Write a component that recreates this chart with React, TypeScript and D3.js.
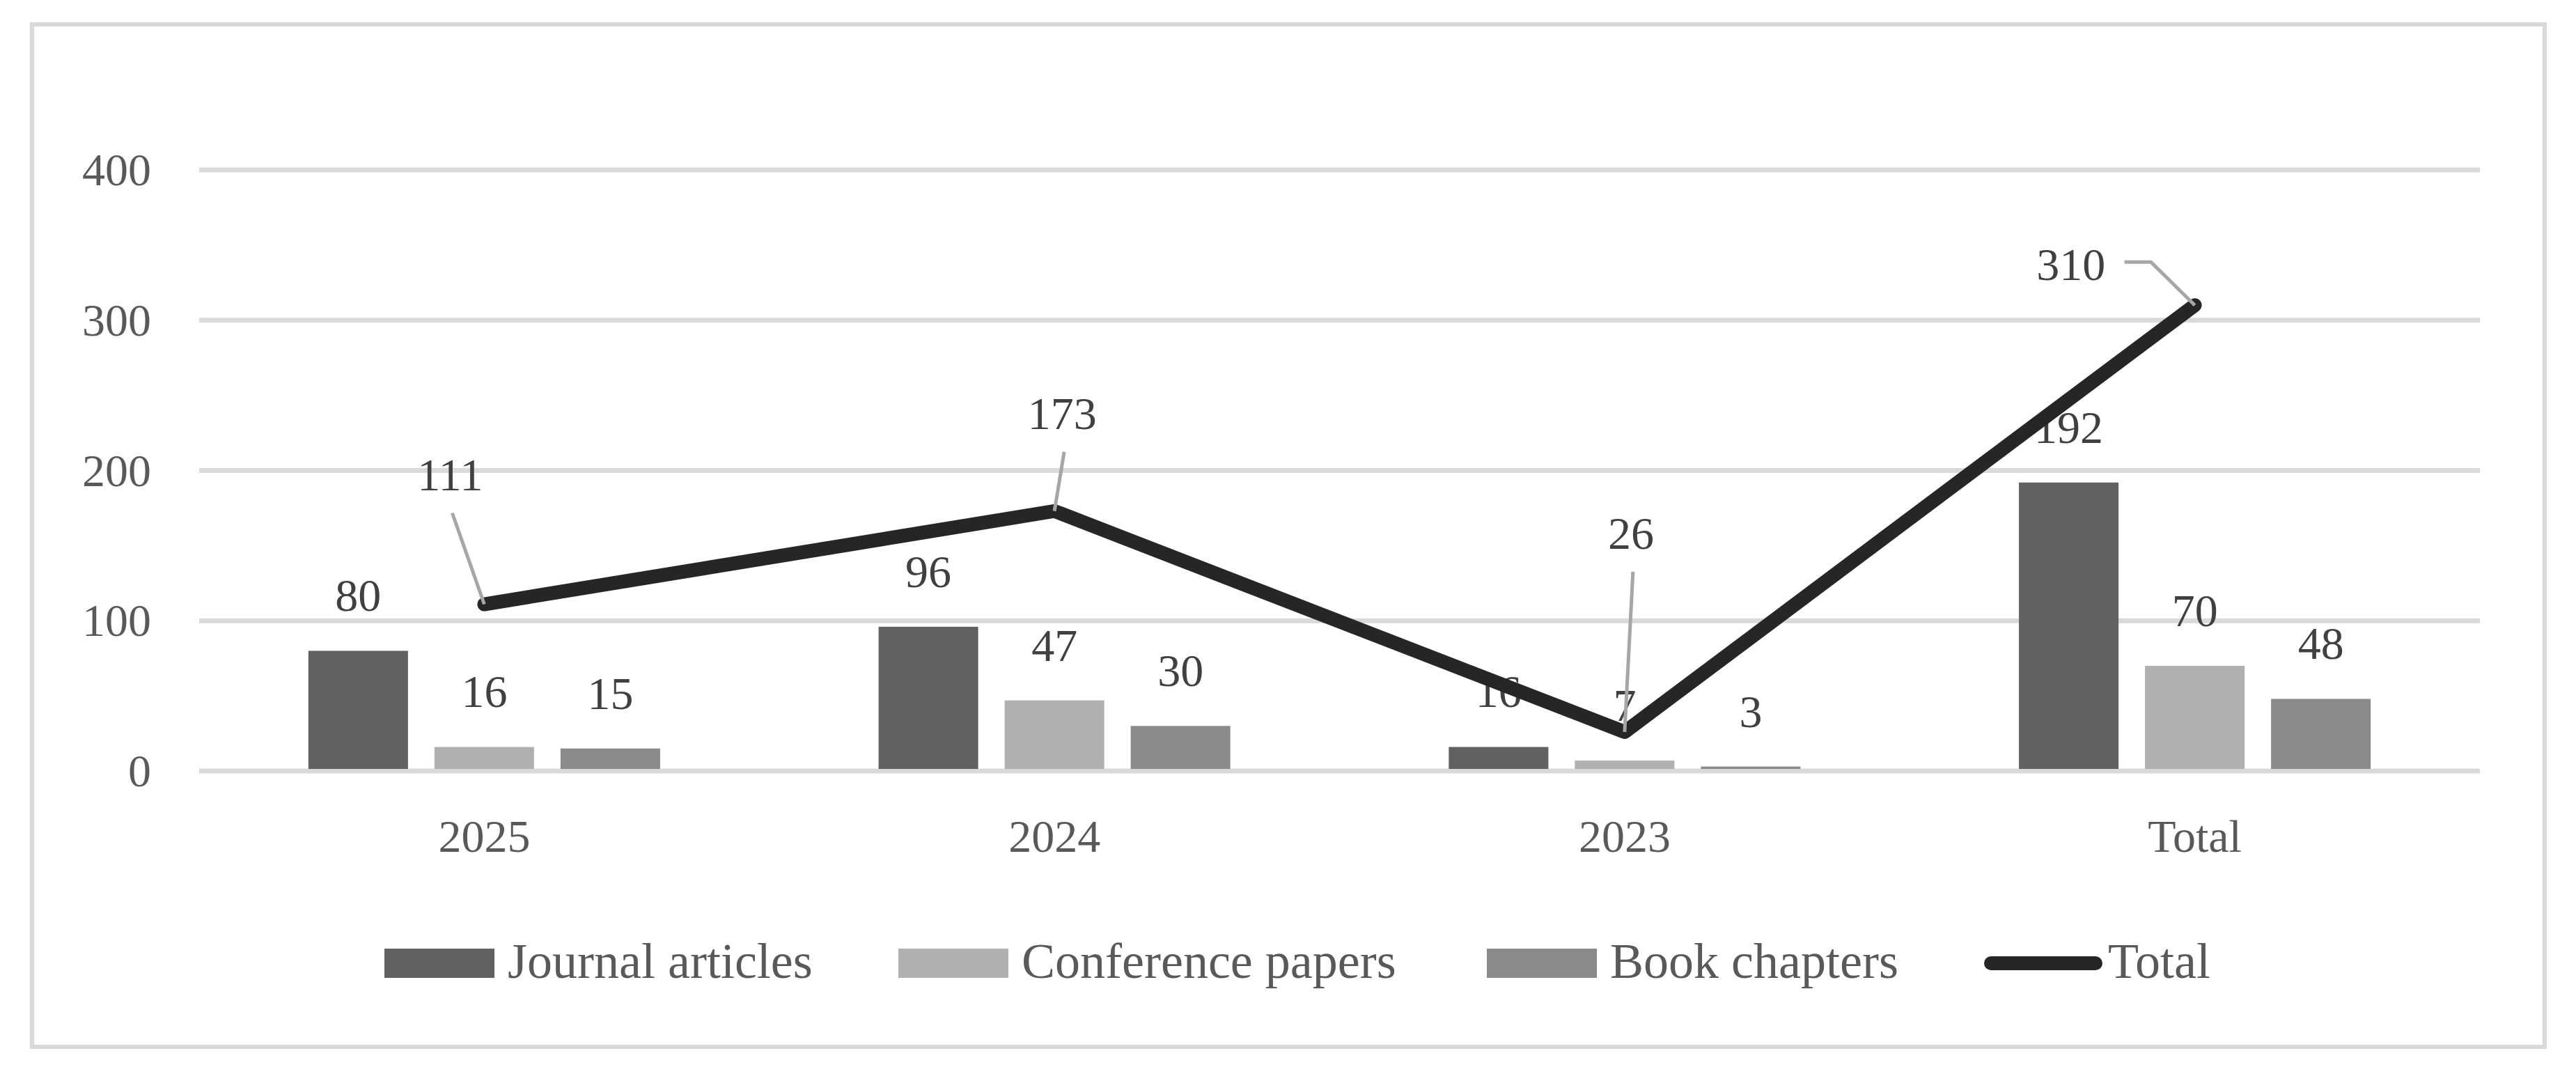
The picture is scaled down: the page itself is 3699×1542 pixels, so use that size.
import React from "react";
import * as d3 from "d3";

const categories = ["2025", "2024", "2023", "Total"];
const journalArticles = [80, 96, 16, 192];
const conferencePapers = [16, 47, 7, 70];
const bookChapters = [15, 30, 3, 48];
const totalValues = [111, 173, 26, 310];
const yTicks = [0, 100, 200, 300, 400];

const seriesNames = ["Journal articles", "Conference papers", "Book chapters"];
const seriesColors = ["#616161", "#b0b0b0", "#8a8a8a"];
const lineColor = "#262626";

// label placement (layout only): offset of label from point, leader style
const totalLabelLayout = [
  { dx: -49, dy: -164, elbow: false },
  { dx: 11, dy: -118, elbow: false },
  { dx: 9, dy: -263, elbow: false },
  { dx: -178, dy: -36, elbow: true },
];

const W = 3699;
const H = 1542;
const FONT = "'Liberation Serif', 'Times New Roman', serif";
const FS = 66;

export default function App() {
  const x = d3.scaleBand<string>().domain(categories).range([286, 3561]);
  const y = d3.scaleLinear().domain([0, 400]).range([1107, 244]);
  const band = x.bandwidth();
  const barW = band * 0.1747;
  const barStep = band * 0.2211;
  const cx = (c: string) => (x(c) as number) + band / 2;

  const allSeries = [journalArticles, conferencePapers, bookChapters];

  const lineGen = d3
    .line<number>()
    .x((_, i) => cx(categories[i]))
    .y((d) => y(d));

  const legendItems = [
    { type: "rect", color: seriesColors[0], label: seriesNames[0], x: 552, tx: 729 },
    { type: "rect", color: seriesColors[1], label: seriesNames[1], x: 1290, tx: 1467 },
    { type: "rect", color: seriesColors[2], label: seriesNames[2], x: 2135, tx: 2312 },
    { type: "line", color: lineColor, label: "Total", x: 2849, tx: 3027 },
  ];

  return (
    <svg
      width={W}
      height={H}
      style={{ position: "absolute", left: 0, top: 0, background: "#fff" }}
      fontFamily={FONT}
    >
      <rect x={0} y={0} width={W} height={H} fill="#fff" />
      <rect x={46} y={35} width={3608} height={1468} fill="none" stroke="#d9d9d9" strokeWidth={6} />

      {/* gridlines */}
      {yTicks.map((t) => (
        <line key={t} x1={286} x2={3561} y1={y(t)} y2={y(t)} stroke="#d9d9d9" strokeWidth={7} />
      ))}
      {/* y tick labels */}
      {yTicks.map((t) => (
        <text key={"yl" + t} x={217} y={y(t) + 22} textAnchor="end" fontSize={FS} fill="#595959">
          {t}
        </text>
      ))}

      {/* bars */}
      {allSeries.map((s, si) =>
        s.map((v, i) => {
          const bx = cx(categories[i]) + (si - 1) * barStep - barW / 2;
          return (
            <rect
              key={`b${si}-${i}`}
              x={bx}
              y={y(v)}
              width={barW}
              height={y(0) - 3 - y(v)}
              fill={seriesColors[si]}
            />
          );
        })
      )}

      {/* bar labels */}
      {allSeries.map((s, si) =>
        s.map((v, i) => (
          <text
            key={`bl${si}-${i}`}
            x={cx(categories[i]) + (si - 1) * barStep}
            y={y(v) - 57}
            textAnchor="middle"
            fontSize={FS}
            fill="#404040"
          >
            {v}
          </text>
        ))
      )}

      {/* category labels */}
      {categories.map((c) => (
        <text key={"c" + c} x={cx(c)} y={1223} textAnchor="middle" fontSize={FS} fill="#595959">
          {c}
        </text>
      ))}

      {/* total line */}
      <path
        d={lineGen(totalValues) || ""}
        fill="none"
        stroke={lineColor}
        strokeWidth={20}
        strokeLinecap="round"
        strokeLinejoin="round"
      />

      {/* leader lines and labels */}
      {totalValues.map((v, i) => {
        const px = cx(categories[i]);
        const py = y(v);
        const L = totalLabelLayout[i];
        const lx = px + L.dx;
        const ly = py + L.dy;
        let d: string;
        if (L.elbow) {
          const sx = lx + 77;
          const sy = ly - 26;
          d = `M${sx},${sy} L${sx + 38},${sy} L${px},${py}`;
        } else {
          d = `M${lx + 3},${ly + 33} L${px},${py}`;
        }
        return (
          <g key={"t" + i}>
            <path d={d} fill="none" stroke="#a6a6a6" strokeWidth={5} />
            <text x={lx} y={ly} textAnchor="middle" fontSize={FS} fill="#404040">
              {v}
            </text>
          </g>
        );
      })}

      {/* legend */}
      {legendItems.map((it) => (
        <g key={it.label}>
          {it.type === "rect" ? (
            <rect x={it.x} y={1362} width={158} height={42} fill={it.color} />
          ) : (
            <line
              x1={it.x + 10}
              x2={it.x + 160}
              y1={1383}
              y2={1383}
              stroke={it.color}
              strokeWidth={20}
              strokeLinecap="round"
            />
          )}
          <text x={it.tx} y={1404} fontSize={72} fill="#595959">
            {it.label}
          </text>
        </g>
      ))}
    </svg>
  );
}
